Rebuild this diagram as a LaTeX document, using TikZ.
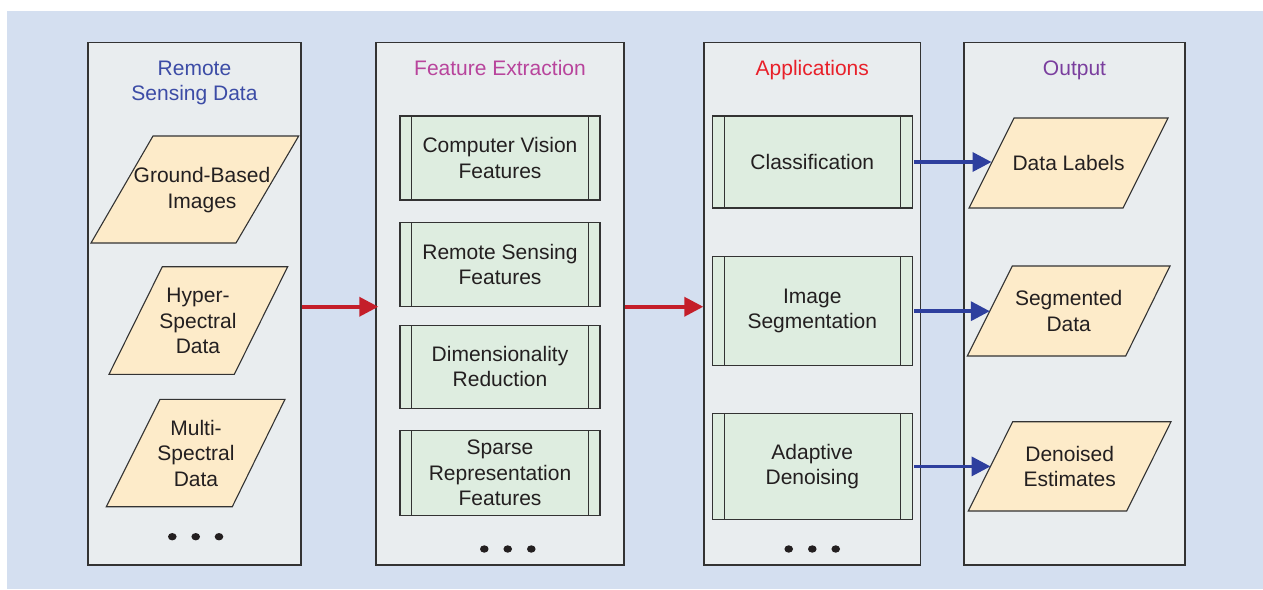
\documentclass[tikz,border=0pt]{standalone}
\usepackage{fontspec}
\setmainfont{Liberation Sans}
\usetikzlibrary{arrows.meta}

\definecolor{bgblue}{HTML}{D4DFF0}
\definecolor{colfill}{HTML}{E9EDEF}
\definecolor{procfill}{HTML}{DEEDE0}
\definecolor{datafill}{HTML}{FDEBC9}
\definecolor{edgegray}{HTML}{333333}
\definecolor{txt}{HTML}{231F20}
\definecolor{redflow}{HTML}{C41E2A}
\definecolor{blueflow}{HTML}{2E3F9E}
\definecolor{ttlblue}{HTML}{3C4CA6}
\definecolor{ttlmag}{HTML}{B8449C}
\definecolor{ttlred}{HTML}{E8202A}
\definecolor{ttlpurple}{HTML}{7A3E9E}

\tikzset{
  basefont/.style={font=\fontsize{21}{25.5}\selectfont},
  column/.style={draw=edgegray, line width=1.4pt, fill=colfill, inner sep=0pt,
    minimum height=522.5pt},
  heading/.style={basefont, align=center, inner sep=0pt},
  procbox/.style={draw=edgegray, line width=1.1pt, fill=procfill, inner sep=0pt,
    minimum width=200pt, align=center, text=txt, basefont},
  procside/.style={draw=edgegray, line width=1.1pt},
  datashape/.style={draw=edgegray, line width=1.1pt, fill=datafill, line join=miter},
  datatext/.style={basefont, align=center, text=txt, inner sep=0pt},
  redarrow/.style={draw=redflow, line width=3.6pt,
    -{Triangle[length=19pt, width=19pt]}},
  bluearrow/.style={draw=blueflow, line width=3.6pt,
    -{Triangle[length=19pt, width=19pt]}},
  dot/.style={fill=txt}
}

\begin{document}
\begin{tikzpicture}[x=1pt, y=-1pt]
  % canvas
  \useasboundingbox (0,0) rectangle (1263,589);
  \fill[white] (0,0) rectangle (1263,589);
  \fill[bgblue] (7,11) rectangle (1263,589);

  % the four stage columns
  \node[column, minimum width=213pt] (col1) at (194.5,303.75) {};
  \node[column, minimum width=248pt] (col2) at (500,303.75) {};
  \node[column, minimum width=216.5pt] (col3) at (812.25,303.75) {};
  \node[column, minimum width=221pt] (col4) at (1074.5,303.75) {};

  % column headings
  \node[heading, text=ttlblue] (h1) at (194.5,83) {Remote\\Sensing Data};
  \node[heading, text=ttlmag, anchor=base] (h2) at (500,75.5) {Feature Extraction};
  \node[heading, text=ttlred, anchor=base] (h3) at (812.3,75.5) {Applications};
  \node[heading, text=ttlpurple, anchor=base] (h4) at (1074.5,75.5) {Output};

  % input data (parallelograms)
  \draw[datashape] (153,136) -- (298.7,136) -- (236,243) -- (91,243) -- cycle;
  \node[datatext] (ground) at (202,190) {Ground-Based\\Images};
  \draw[datashape] (162.3,266.7) -- (287.7,266.7) -- (234.3,374.3) -- (109,374.3) -- cycle;
  \node[datatext] (hyper) at (198,321) {Hyper-\\Spectral\\Data};
  \draw[datashape] (160,399.3) -- (285,399.3) -- (232.3,506.7) -- (106.3,506.7) -- cycle;
  \node[datatext] (multi) at (196,453) {Multi-\\Spectral\\Data};

  % feature extraction steps
  \node[procbox, minimum height=84pt] (cv) at (500,158) {Computer Vision\\Features};
  \node[procbox, minimum height=84pt] (rs) at (500,264.7) {Remote Sensing\\Features};
  \node[procbox, minimum height=83.3pt] (dr) at (500,366.7) {Dimensionality\\Reduction};
  \node[procbox, minimum height=84.3pt] (sr) at (500,472.9) {Sparse\\Representation\\Features};

  % applications
  \node[procbox, minimum height=92pt] (cls) at (812.3,162) {Classification};
  \node[procbox, minimum height=109pt] (seg) at (812.3,311.2) {Image\\Segmentation};
  \node[procbox, minimum height=105.3pt] (den) at (812.3,466.4) {Adaptive\\Denoising};

  % inner side bars of the process boxes
  \foreach \n in {cv,rs,dr,sr,cls,seg,den}
    \draw[procside]
      ([xshift=12.3pt, yshift=-0.55pt]\n.north west) -- ([xshift=12.3pt, yshift=0.55pt]\n.south west)
      ([xshift=-12.3pt, yshift=-0.55pt]\n.north east) -- ([xshift=-12.3pt, yshift=0.55pt]\n.south east);

  % outputs (parallelograms)
  \draw[datashape] (1014,118) -- (1168,118) -- (1123,208) -- (969,208) -- cycle;
  \coordinate (labels-w) at (991.5,162);
  \node[datatext] (labels) at (1068.6,163) {Data Labels};
  \draw[datashape] (1012.3,266) -- (1170,266) -- (1125.7,356) -- (967.3,356) -- cycle;
  \coordinate (segdata-w) at (989.8,311.2);
  \node[datatext] (segdata) at (1068.7,311) {Segmented\\Data};
  \draw[datashape] (1012.7,421.7) -- (1171,421.7) -- (1126.7,511) -- (968.3,511) -- cycle;
  \coordinate (denoised-w) at (990.5,466.4);
  \node[datatext] (denoised) at (1069.7,466.4) {Denoised\\Estimates};

  % continuation marks
  \foreach \x in {172.3,195.7,219} \fill[dot] (\x,536.7) ellipse (4.3pt and 3.7pt);
  \foreach \x in {484.3,507.7,531.3} \fill[dot] (\x,549) ellipse (4.3pt and 3.7pt);
  \foreach \x in {788.7,812.3,835.7} \fill[dot] (\x,549) ellipse (4.3pt and 3.7pt);

  % flow between stages
  \draw[redarrow] ([yshift=-3pt]col1.east) -- ([yshift=-3pt, xshift=3pt]col2.west);
  \draw[redarrow] ([yshift=-3pt]col2.east) -- ([yshift=-3pt]col3.west);
  \draw[bluearrow] ([xshift=1.5pt]cls.east) -- (labels-w);
  \draw[bluearrow] ([xshift=1.5pt]seg.east) -- (segdata-w);
  \draw[bluearrow] ([xshift=1.5pt]den.east) -- (denoised-w);
\end{tikzpicture}
\end{document}
